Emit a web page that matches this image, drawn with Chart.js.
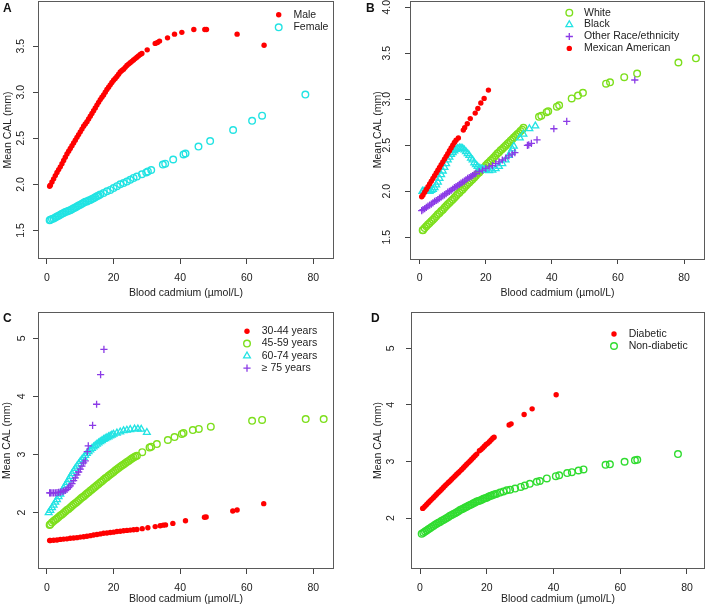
<!DOCTYPE html>
<html>
<head>
<meta charset="utf-8">
<script src="https://cdn.jsdelivr.net/npm/chart.js@4.4.0/dist/chart.umd.min.js"></script>
<style>
body { margin: 0; background: #fff; }
#wrap { position: relative; width: 708px; height: 607px; overflow: hidden; }
canvas { position: absolute; }
.tag { position: absolute; font: bold 12px "Liberation Sans", Arial, sans-serif; color: #111; line-height: 12px; }
</style>
</head>
<body>
<div id="wrap">
  <canvas id="cA" width="354" height="300" style="left:0;top:0"></canvas>
  <canvas id="cB" width="354" height="300" style="left:354px;top:0"></canvas>
  <canvas id="cC" width="354" height="307" style="left:0;top:300px"></canvas>
  <canvas id="cD" width="354" height="307" style="left:354px;top:300px"></canvas>
  <div class="tag" style="left:3px;top:2px">A</div>
  <div class="tag" style="left:366px;top:2px">B</div>
  <div class="tag" style="left:3px;top:312px">C</div>
  <div class="tag" style="left:371px;top:312px">D</div>
</div>
<script>
// ---- axis ticks ----
const xTicks = [0, 20, 40, 60, 80];
const xTickLabels = ['0', '20', '40', '60', '80'];
const yTicksAB = [1.5, 2.0, 2.5, 3.0, 3.5, 4.0];
const yTickLabelsAB = ['1.5', '2.0', '2.5', '3.0', '3.5', '4.0'];
const yTicksCD = [2, 3, 4, 5];
const yTickLabelsCD = ['2', '3', '4', '5'];

// ---- panel A: sex ----
const male = [[0.8,1.98],[1,1.99],[1.5,2.025],[2,2.06],[2.5,2.095],[3,2.13],[3.5,2.16],[4,2.19],[4.5,2.225],[5,2.26],[5.5,2.295],[6,2.33],[6.5,2.36],[7,2.39],[7.5,2.42],[8,2.45],[8.5,2.48],[9,2.51],[9.5,2.54],[10,2.57],[10.5,2.60],[11,2.63],[11.5,2.655],[12,2.68],[12.5,2.71],[13,2.74],[13.5,2.77],[14,2.80],[14.5,2.83],[15,2.86],[15.5,2.89],[16,2.92],[16.5,2.945],[17,2.97],[17.5,3.0],[18,3.03],[18.5,3.055],[19,3.08],[19.5,3.105],[20,3.13],[20.5,3.15],[21,3.17],[21.5,3.195],[22,3.22],[22.5,3.235],[23,3.25],[23.5,3.27],[24,3.29],[24.5,3.305],[25,3.32],[25.5,3.335],[26,3.35],[26.5,3.365],[27,3.38],[27.5,3.395],[28,3.41],[28.5,3.42],
  [30.1,3.46],[32.5,3.53],[33.2,3.54],[33.8,3.555],[36.2,3.59],[38.3,3.63],[40.5,3.65],[44.1,3.68],[47.4,3.68],[47.9,3.68],[57.1,3.63],[65.2,3.51]];
const female = [[0.8,1.61],[1,1.615],[1.5,1.625],[2,1.63],[2.5,1.64],[3,1.65],[3.5,1.66],[4,1.67],[4.5,1.68],[5,1.69],[5.5,1.70],[6,1.705],[6.5,1.715],[7,1.72],[7.5,1.73],[8,1.74],[8.5,1.75],[9,1.76],[9.5,1.77],[10,1.78],[10.5,1.79],[11,1.80],[11.5,1.81],[12,1.815],[12.5,1.825],[13,1.83],[13.5,1.84],[14,1.85],[14.5,1.86],[15,1.87],[15.5,1.88],[16,1.89],[17,1.905],[18,1.925],[19,1.94],[20,1.96],[21,1.98],[22,2.0],[23,2.015],[24,2.03],[25,2.05],[26,2.07],[27,2.085],
  [28.5,2.11],[29.8,2.13],[30.3,2.14],[31.3,2.155],[34.8,2.215],[35.5,2.225],[37.9,2.27],[41,2.325],[41.6,2.335],[45.5,2.41],[49,2.47],[55.9,2.59],[61.6,2.69],[64.6,2.745],[77.6,2.975]];

// ---- panel B: race/ethnicity ----
const white = [[0.9,1.576],[1,1.58],[1.5,1.60],[2,1.62],[2.5,1.64],[3,1.655],[3.5,1.675],[4,1.69],[4.5,1.71],[5,1.73],[5.5,1.75],[6,1.765],[6.5,1.785],[7,1.80],[7.5,1.82],[8,1.84],[8.5,1.86],[9,1.875],[9.5,1.895],[10,1.91],[10.5,1.93],[11,1.95],[11.5,1.97],[12,1.985],[12.5,2.005],[13,2.02],[13.5,2.04],[14,2.06],[14.5,2.08],[15,2.095],[15.5,2.115],[16,2.13],[16.5,2.15],[17,2.17],[17.5,2.19],[18,2.205],[18.5,2.225],[19,2.24],[19.5,2.26],[20,2.28],[20.5,2.30],[21,2.315],[21.5,2.335],[22,2.35],[22.5,2.37],[23,2.39],[23.5,2.41],[24,2.425],[24.5,2.445],[25,2.46],[25.5,2.48],[26,2.495],[26.5,2.515],[27,2.53],[27.5,2.55],[28,2.565],[28.5,2.585],[29,2.60],[29.5,2.62],[30,2.635],[30.5,2.655],[31,2.67],
  [31.4,2.69],[36.1,2.81],[36.8,2.82],[38.4,2.86],[38.9,2.87],[41.5,2.92],[42.2,2.935],[46,3.01],[47.9,3.04],[49.4,3.07],[56.4,3.17],[57.6,3.185],[61.9,3.24],[65.8,3.28],[78.3,3.40],[83.6,3.445]];
const black = [[0.8,2.0],[1,2.0],[1.5,2.0],[2,2.0],[2.5,2.0],[3,2.0],[3.5,2.01],[4,2.02],[4.5,2.04],[5,2.07],[5.5,2.10],[6,2.14],[6.5,2.18],[7,2.22],[7.5,2.26],[8,2.30],[8.5,2.34],[9,2.37],[9.5,2.40],[10,2.42],[10.5,2.44],[11,2.455],[11.5,2.465],[12,2.47],[12.5,2.47],[13,2.465],[13.5,2.45],[14,2.43],[14.5,2.41],[15,2.39],[15.5,2.36],[16,2.34],[16.5,2.31],[17,2.29],[17.5,2.27],[18,2.25],[18.5,2.245],[19,2.24],[19.5,2.235],[20,2.23],[21,2.225],[22,2.23],[23,2.245],[24,2.27],[25,2.30],[26,2.34],[27,2.39],[27.5,2.42],[28,2.46],[28.5,2.49],
  [30.3,2.58],[31.4,2.62],[33.2,2.68],[35,2.71]];
const otherRace = [[0.6,1.79],[1,1.80],[1.5,1.81],[2,1.825],[2.5,1.84],[3,1.85],[3.5,1.86],[4,1.875],[4.5,1.89],[5,1.90],[5.5,1.91],[6,1.925],[6.5,1.94],[7,1.95],[7.5,1.96],[8,1.975],[8.5,1.99],[9,2.0],[9.5,2.01],[10,2.025],[10.5,2.04],[11,2.05],[11.5,2.06],[12,2.075],[12.5,2.09],[13,2.10],[13.5,2.11],[14,2.125],[14.5,2.14],[15,2.15],[15.5,2.16],[16,2.17],[16.5,2.185],[17,2.195],[18,2.215],[19,2.23],[20,2.25],[21,2.265],[22,2.28],[23,2.30],[24,2.32],[25,2.34],[26,2.36],[27,2.385],[28,2.405],[28.8,2.42],
  [32.6,2.50],[33,2.505],[33.8,2.52],[35.5,2.56],[40.6,2.68],[44.5,2.76],[65.1,3.21]];
const mexican = [[0.6,1.94],[1,1.96],[1.5,1.99],[2,2.02],[2.5,2.05],[3,2.08],[3.5,2.11],[4,2.14],[4.5,2.17],[5,2.20],[5.5,2.23],[6,2.26],[6.5,2.29],[7,2.32],[7.5,2.35],[8,2.38],[8.5,2.41],[9,2.44],[9.5,2.47],[10,2.50],[10.5,2.53],[11,2.555],[11.7,2.58],
  [13.2,2.665],[13.6,2.69],[14.4,2.735],[15.3,2.79],[16.8,2.85],[17.6,2.9],[18.5,2.96],[19.5,3.01],[20.8,3.10]];

// ---- panel C: age ----
const age3044 = [[0.8,1.52],[1,1.52],[2,1.525],[3,1.53],[4,1.54],[5,1.545],[6,1.55],[7,1.56],[8,1.565],[9,1.57],[10,1.58],[11,1.585],[12,1.595],[13,1.605],[14,1.615],[15,1.625],[16,1.635],[17,1.645],[18,1.65],[19,1.66],[20,1.665],[21,1.675],[22,1.68],[23,1.69],[24,1.695],[25,1.70],[26,1.705],[27,1.71],
  [28.6,1.725],[30.3,1.74],[32.5,1.76],[34,1.775],[34.9,1.785],[35.6,1.79],[37.8,1.815],[41.6,1.86],[47.3,1.92],[47.8,1.925],[55.8,2.03],[57.1,2.045],[65.1,2.155]];
const age4559 = [[0.8,1.79],[1,1.80],[1.5,1.83],[2,1.855],[2.5,1.88],[3,1.90],[3.5,1.925],[4,1.95],[4.5,1.97],[5,1.995],[5.5,2.02],[6,2.045],[6.5,2.065],[7,2.09],[7.5,2.115],[8,2.14],[8.5,2.16],[9,2.185],[9.5,2.21],[10,2.235],[10.5,2.26],[11,2.28],[11.5,2.305],[12,2.33],[12.5,2.35],[13,2.375],[13.5,2.40],[14,2.425],[14.5,2.445],[15,2.47],[15.5,2.495],[16,2.52],[16.5,2.54],[17,2.565],[17.5,2.59],[18,2.61],[18.5,2.635],[19,2.655],[19.5,2.68],[20,2.70],[20.5,2.725],[21,2.745],[21.5,2.77],[22,2.79],[22.5,2.81],[23,2.83],[23.5,2.85],[24,2.87],[24.5,2.89],[25,2.91],[25.5,2.93],[26,2.95],[26.5,2.965],[27,2.98],
  [28.6,3.04],[30.8,3.12],[31.3,3.135],[33,3.18],[36.3,3.25],[38.3,3.30],[40.5,3.355],[41,3.37],[43.8,3.42],[45.6,3.44],[49.2,3.48],[61.6,3.58],[64.6,3.595],[77.7,3.61],[83.1,3.61]];
const age6074 = [[0.5,2.0],[1,2.04],[1.5,2.085],[2,2.13],[2.5,2.18],[3,2.225],[3.5,2.275],[4,2.32],[4.5,2.37],[5,2.42],[5.5,2.47],[6,2.52],[6.5,2.57],[7,2.62],[7.5,2.67],[8,2.715],[8.5,2.76],[9,2.80],[9.5,2.84],[10,2.88],[10.5,2.915],[11,2.95],[11.5,2.985],[12,3.02],[12.5,3.05],[13,3.08],[13.5,3.105],[14,3.13],[14.5,3.155],[15,3.18],[15.5,3.20],[16,3.22],[16.5,3.24],[17,3.26],[17.5,3.275],[18,3.29],[18.5,3.305],[19,3.32],[19.5,3.335],[20,3.35],[21,3.37],[22,3.39],[23,3.41],[24,3.42],[25,3.43],
  [26.3,3.44],[27.3,3.44],[28.3,3.435],[30,3.38]];
const age75 = [[0.8,2.34],[1,2.34],[1.5,2.34],[2,2.34],[2.5,2.34],[3,2.345],[3.5,2.35],[4,2.355],[4.5,2.36],[5,2.37],[5.5,2.385],[6,2.40],[6.5,2.43],[7,2.46],[7.5,2.50],[8,2.55],[8.5,2.60],[9,2.65],[9.5,2.70],[10,2.75],[10.5,2.80],[11,2.855],[11.5,2.89],
  [12.1,3.05],[12.4,3.15],[13.7,3.5],[14.9,3.865],[16.1,4.375],[17.1,4.81]];

// ---- panel D: diabetes ----
const diabetic = [[0.8,2.17],[1,2.18],[1.5,2.21],[2,2.24],[2.5,2.27],[3,2.30],[3.5,2.33],[4,2.36],[4.5,2.39],[5,2.42],[5.5,2.45],[6,2.48],[6.5,2.51],[7,2.54],[7.5,2.57],[8,2.60],[8.5,2.63],[9,2.655],[9.5,2.685],[10,2.715],[10.5,2.745],[11,2.775],[11.5,2.80],[12,2.83],[12.5,2.86],[13,2.89],[13.5,2.92],[14,2.95],[14.5,2.98],[15,3.01],[15.5,3.04],[16,3.07],[16.5,3.10],[17,3.13],[17.8,3.19],[18.3,3.21],[18.8,3.24],[19.3,3.27],[19.8,3.30],[20.3,3.32],[20.8,3.35],[21.3,3.38],[21.8,3.41],[22.2,3.43],
  [26.7,3.645],[27.3,3.665],[31.2,3.83],[33.6,3.93],[40.8,4.18]];
const nonDiabetic = [[0.5,1.72],[1,1.74],[1.5,1.76],[2,1.78],[2.5,1.80],[3,1.82],[3.5,1.84],[4,1.86],[4.5,1.88],[5,1.90],[5.5,1.915],[6,1.93],[6.5,1.95],[7,1.965],[7.5,1.985],[8,2.0],[8.5,2.02],[9,2.04],[9.5,2.055],[10,2.07],[10.5,2.085],[11,2.10],[11.5,2.12],[12,2.14],[12.5,2.155],[13,2.17],[13.5,2.185],[14,2.20],[14.5,2.215],[15,2.23],[15.5,2.245],[16,2.26],[16.5,2.275],[17,2.29],[17.5,2.30],[18,2.31],[18.5,2.325],[19,2.34],[19.5,2.35],[20,2.36],[20.5,2.375],[21,2.39],[21.5,2.40],[22,2.41],[22.5,2.42],[23,2.43],[24,2.45],[25,2.47],[26,2.49],[27,2.50],
  [28.5,2.52],[30.2,2.55],[31.4,2.575],[32.9,2.605],[35,2.64],[35.9,2.655],[38,2.70],[40.7,2.74],[41.7,2.755],[44.1,2.795],[45.5,2.81],[47.5,2.84],[49,2.86],[55.6,2.94],[56.9,2.95],[61.3,2.995],[64.4,3.02],[65.1,3.03],[77.3,3.13]];

const FONT = '"Liberation Sans", Arial, Helvetica, sans-serif';
const INK = '#222';

// marker styles (R pch look-alikes)
function dot(label, data, color) {
  return { label, data, pointStyle: 'circle', pointRadius: 2.7, pointBackgroundColor: color, pointBorderColor: color, pointBorderWidth: 0 };
}
function ring(label, data, color) {
  return { label, data, pointStyle: 'circle', pointRadius: 3.3, pointBackgroundColor: 'rgba(0,0,0,0)', pointBorderColor: color, pointBorderWidth: 1.4 };
}
function tri(label, data, color) {
  return { label, data, pointStyle: 'triangle', pointRadius: 3.9, pointBackgroundColor: 'rgba(0,0,0,0)', pointBorderColor: color, pointBorderWidth: 1.3 };
}
function plus(label, data, color) {
  return { label, data, pointStyle: 'cross', pointRadius: 3.6, pointBackgroundColor: color, pointBorderColor: color, pointBorderWidth: 1.3 };
}

// box round the plot region
const frameBox = {
  id: 'frameBox',
  afterDraw(chart) {
    const a = chart.chartArea, ctx = chart.ctx;
    ctx.save();
    ctx.strokeStyle = '#5a5a5a';
    ctx.lineWidth = 1;
    ctx.strokeRect(Math.round(a.left) + 0.5, Math.round(a.top) + 0.5, Math.round(a.right - a.left) - 1, Math.round(a.bottom - a.top) - 1);
    ctx.restore();
  }
};

// R style legend (no box) inside the plot
function drawMark(ctx, ds, x, y) {
  const r = ds.pointRadius;
  ctx.beginPath();
  ctx.lineWidth = ds.pointBorderWidth || 1;
  ctx.strokeStyle = ds.pointBorderColor;
  ctx.fillStyle = ds.pointBackgroundColor;
  if (ds.pointStyle === 'circle') {
    ctx.arc(x, y, r, 0, Math.PI * 2);
    ctx.fill();
    if (ds.pointBorderWidth > 0) ctx.stroke();
  } else if (ds.pointStyle === 'triangle') {
    for (let k = 0; k < 3; k++) {
      const ang = k * 2 * Math.PI / 3;
      const px = x + Math.sin(ang) * r, py = y - Math.cos(ang) * r;
      if (k === 0) ctx.moveTo(px, py); else ctx.lineTo(px, py);
    }
    ctx.closePath();
    ctx.stroke();
  } else if (ds.pointStyle === 'cross') {
    ctx.moveTo(x - r, y); ctx.lineTo(x + r, y);
    ctx.moveTo(x, y - r); ctx.lineTo(x, y + r);
    ctx.stroke();
  }
}
const cornerLegend = {
  id: 'cornerLegend',
  afterDraw(chart, args, opts) {
    const ctx = chart.ctx;
    ctx.save();
    chart.data.datasets.forEach((ds, i) => {
      const y = opts.y + i * opts.gap;
      drawMark(ctx, ds, opts.x, y);
      ctx.font = '10.5px ' + FONT;
      ctx.textBaseline = 'middle';
      ctx.textAlign = 'left';
      ctx.fillStyle = INK;
      ctx.fillText(ds.label, opts.x + 14.7, y);
    });
    ctx.restore();
  }
};

function panel(id, datasets, c) {
  // later series drawn on top, like R
  datasets.forEach((d, i) => { d.order = datasets.length - i; });
  return new Chart(document.getElementById(id), {
    type: 'scatter',
    data: { datasets },
    options: {
      responsive: false,
      animation: false,
      devicePixelRatio: 1,
      events: [],
      layout: { padding: c.pad, autoPadding: false },
      plugins: { legend: { display: false }, tooltip: { enabled: false }, cornerLegend: c.legend },
      scales: {
        x: {
          type: 'linear', min: c.x[0], max: c.x[1],
          afterBuildTicks: s => { s.ticks = xTicks.map(v => ({ value: v })); },
          afterFit: s => { s.height = c.xH; s.paddingLeft = 0; s.paddingRight = 0; },
          grid: { drawOnChartArea: false, tickLength: 5, color: '#444' },
          border: { display: false },
          ticks: { color: INK, font: { family: FONT, size: 10.5 }, padding: 8, maxRotation: 0, autoSkip: false,
                   callback: v => xTickLabels[xTicks.indexOf(v)] },
          title: { display: true, text: 'Blood cadmium (µmol/L)', color: INK, font: { family: FONT, size: 10.5, lineHeight: 1.2 }, padding: { top: 0, bottom: c.xtPad } }
        },
        y: {
          type: 'linear', min: c.y[0], max: c.y[1],
          afterBuildTicks: s => { s.ticks = c.yTicks.filter(v => v >= c.y[0] && v <= c.y[1]).map(v => ({ value: v })); },
          afterFit: s => { s.width = c.yW; s.paddingTop = 0; s.paddingBottom = 0; },
          grid: { drawOnChartArea: false, tickLength: 5, color: '#444' },
          border: { display: false },
          ticks: { color: INK, font: { family: FONT, size: 10.5 }, padding: c.ylPad, minRotation: 90, maxRotation: 90, crossAlign: 'center', autoSkip: false,
                   callback: v => c.yLabels[c.yTicks.indexOf(v)] },
          title: { display: true, text: 'Mean CAL (mm)', color: INK, font: { family: FONT, size: 10.5, lineHeight: 1.2 }, padding: { top: c.ytPad, bottom: 0 } }
        }
      }
    },
    plugins: [frameBox, cornerLegend]
  });
}

panel('cA', [dot('Male', male, '#ff0000'), ring('Female', female, '#22e3e3')], {
  pad: { left: 0, top: 1, right: 20, bottom: 0 }, yW: 38, xH: 41,
  x: [-2.7, 86.2], y: [1.19, 3.99], yTicks: yTicksAB, yLabels: yTickLabelsAB,
  ylPad: 4.4, ytPad: 1.7, xtPad: 1,
  legend: { x: 278.7, y: 14.7, gap: 12.6 }
});
panel('cB', [ring('White', white, '#7ddf1c'), tri('Black', black, '#22e3e3'), plus('Other Race/ethnicity', otherRace, '#8b3be6'), dot('Mexican American', mexican, '#ff0000')], {
  pad: { left: 0, top: 0.5, right: 3, bottom: 0 }, yW: 56, xH: 41,
  x: [-2.94, 86.35], y: [1.264, 4.074], yTicks: yTicksAB, yLabels: yTickLabelsAB,
  ylPad: 10.4, ytPad: 18.2, xtPad: 1,
  legend: { x: 215.3, y: 12.7, gap: 11.9 }
});
panel('cC', [dot('30-44 years', age3044, '#ff0000'), ring('45-59 years', age4559, '#7ddf1c'), tri('60-74 years', age6074, '#22e3e3'), plus('≥ 75 years', age75, '#8b3be6')], {
  pad: { left: 0, top: 12, right: 20, bottom: 0 }, yW: 38, xH: 38,
  x: [-2.7, 86.2], y: [1.031, 5.452], yTicks: yTicksCD, yLabels: yTickLabelsCD,
  ylPad: 8.4, ytPad: 1.2, xtPad: 1.4,
  legend: { x: 247, y: 31.3, gap: 12.3 }
});
panel('cD', [dot('Diabetic', diabetic, '#ff0000'), ring('Non-diabetic', nonDiabetic, '#30dc30')], {
  pad: { left: 0, top: 12, right: 3, bottom: 0 }, yW: 57, xH: 38,
  x: [-2.7, 85.4], y: [1.099, 5.642], yTicks: yTicksCD, yLabels: yTickLabelsCD,
  ylPad: 12.1, ytPad: 17.7, xtPad: 1.4,
  legend: { x: 260, y: 34, gap: 12 }
});
</script>
</body>
</html>
